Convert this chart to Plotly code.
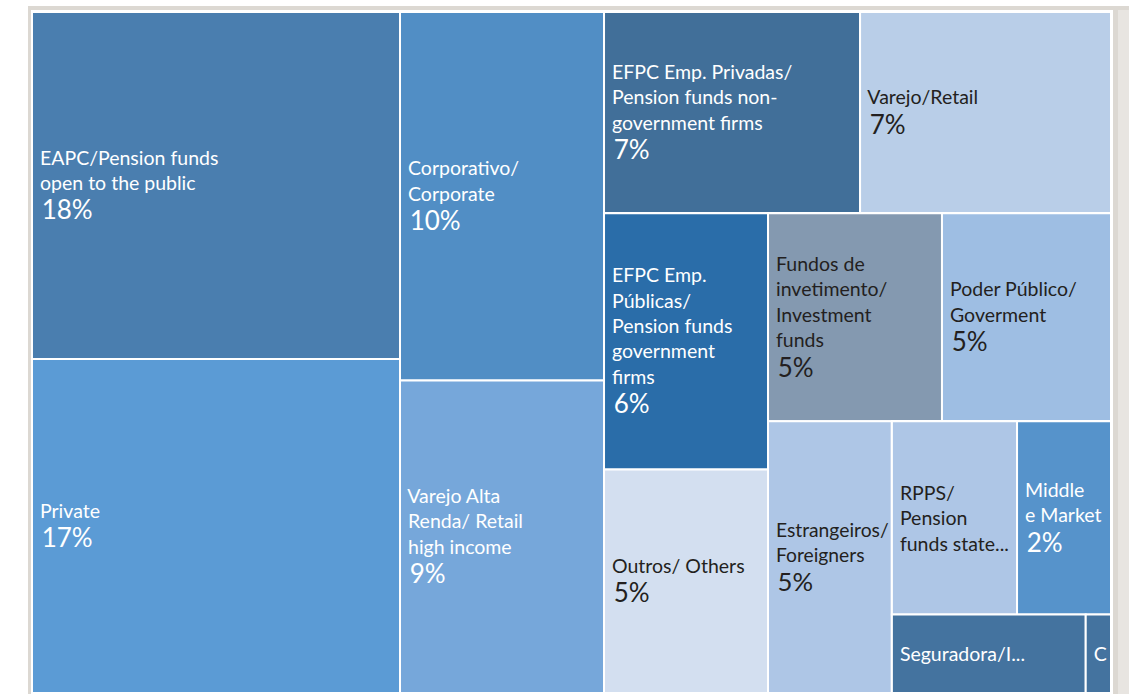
import plotly.graph_objects as go

# ---- data (shares read from tile areas), listed depth-first ----
ids = ["root",
       "G1", "EAPC", "Private",
       "G2", "Corporativo", "VarejoAlta",
       "G3", "RowA", "EFPCPriv", "Varejo",
       "G4", "ColB", "EFPCPub", "Outros",
       "G5", "RowC", "Fundos", "Poder",
       "G6", "Estrangeiros",
       "G7", "RowD", "RPPS", "Middle",
       "RowE", "Seguradora", "C"]
parents = ["",
           "root", "G1", "G1",
           "root", "G2", "G2",
           "root", "G3", "RowA", "RowA",
           "G3", "G4", "ColB", "ColB",
           "G4", "G5", "RowC", "RowC",
           "G5", "G6",
           "G6", "G7", "RowD", "RowD",
           "G7", "RowE", "RowE"]
values = [0,
          0, 17.38, 16.73,
          0, 10.23, 8.68,
          0, 0, 7.01, 6.87,
          0, 0, 5.72, 4.99,
          0, 0, 4.93, 4.79,
          0, 4.58,
          0, 0, 3.29, 2.47,
          0, 2.07, 0.27]
names = ["",
         "", "EAPC/Pension funds<br>open to the public", "Private",
         "", "Corporativo/<br>Corporate", "Varejo Alta<br>Renda/ Retail<br>high income",
         "", "", "EFPC Emp. Privadas/<br>Pension funds non-<br>government firms", "Varejo/Retail",
         "", "", "EFPC Emp.<br>Públicas/<br>Pension funds<br>government<br>firms", "Outros/ Others",
         "", "", "Fundos de<br>invetimento/<br>Investment<br>funds", "Poder Público/<br>Goverment",
         "", "Estrangeiros/<br>Foreigners",
         "", "", "RPPS/<br>Pension<br>funds state...", "Middle<br>e Market",
         "", "Seguradora/I...", "C"]
pct_labels = ["",
              "", "18%", "17%",
              "", "10%", "9%",
              "", "", "7%", "7%",
              "", "", "6%", "5%",
              "", "", "5%", "5%",
              "", "5%",
              "", "", "", "2%",
              "", "", ""]
WH = "#ffffff"
colors = [WH,
          WH, "#4A7EAF", "#5B9BD5",
          WH, "#518EC5", "#76A7DA",
          WH, WH, "#416F99", "#B9CEE8",
          WH, WH, "#2A6DA9", "#D3DFF0",
          WH, WH, "#8499B0", "#9EBEE3",
          WH, "#AEC6E6",
          WH, WH, "#AEC6E6", "#5693CB",
          WH, "#44739F", "#44739F"]
DK = "#231F20"
text_colors = [WH,
               WH, WH, WH,
               WH, WH, WH,
               WH, WH, WH, DK,
               WH, WH, WH, DK,
               WH, WH, DK, DK,
               WH, DK,
               WH, WH, DK, WH,
               WH, WH, WH]

NB = "\u00a0"
texts = []
for n, p in zip(names, pct_labels):
    if n == "":
        texts.append("")
        continue
    lines = [NB + ln for ln in n.split("<br>")]
    if p:
        lines.append("<sub><span style='font-size:26px'>" + NB + p + "</span></sub>")
    texts.append("<br>".join(lines))

W, H = 1134, 694

fig = go.Figure(go.Treemap(
    ids=ids,
    labels=ids,
    parents=parents,
    values=values,
    text=texts,
    texttemplate="%{text}",
    textposition="middle left",
    textfont=dict(family="Lato", size=19.5, color=text_colors),
    branchvalues="remainder",
    sort=False,
    tiling=dict(packing="slice-dice", pad=0),
    marker=dict(colors=colors, line=dict(color="#ffffff", width=2),
                pad=dict(t=0, l=0, r=0, b=0), depthfade=False),
    pathbar=dict(visible=False),
    hoverinfo="skip",
    domain=dict(x=[32 / W, 1111 / W], y=[1 / H, 1 - 12 / H]),
))

fig.update_layout(
    width=W, height=H,
    margin=dict(l=0, r=0, t=0, b=0),
    paper_bgcolor="#ffffff",
    showlegend=False,
    shapes=[
        dict(type="rect", xref="paper", yref="paper", layer="below",
             x0=28 / W, x1=1129 / W, y0=0, y1=1 - 6 / H,
             fillcolor="#dcd8d2", line=dict(width=0)),
        dict(type="rect", xref="paper", yref="paper", layer="below",
             x0=1118 / W, x1=1129 / W, y0=0, y1=1 - 10 / H,
             fillcolor="#e8e5e1", line=dict(width=0)),
        dict(type="rect", xref="paper", yref="paper", layer="below",
             x0=31 / W, x1=1113 / W, y0=0, y1=1 - 10 / H,
             fillcolor="#ffffff", line=dict(width=0)),
    ],
)

fig.write_html(
    "out.html",
    config={"displayModeBar": False},
    post_script="document.body.style.margin='0px';document.body.style.overflow='hidden';",
)
